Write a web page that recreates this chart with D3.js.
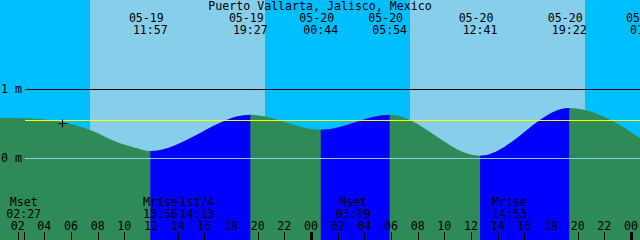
<!DOCTYPE html>
<html><head><meta charset="utf-8">
<script src="https://cdn.jsdelivr.net/npm/d3@7"></script>
<style>html,body{margin:0;padding:0;background:#fff;} svg{display:block;}</style>
</head><body><svg id="c" width="640" height="240"></svg>
<script>
const title = "Puerto Vallarta, Jalisco, Mexico";
// all times in hours since 05-19 00:00
const viewStart = 0.675, viewEnd = 48.675;
const tideHours  = [0.675, 2.55, 4.05, 5.44, 6.675, 7.425, 9.675, 10.8, 11.95, 19.45, 24.733, 29.9, 36.683, 43.367, 49.233];
const tideLevels = [0.591, 0.584, 0.565, 0.525, 0.461, 0.413, 0.220, 0.157, 0.109, 0.635, 0.417, 0.635, 0.040, 0.732, 0.226];
const hiloDates = ["05-19","05-19","05-20","05-20","05-20","05-20","05-21"];
const hiloTimes = ["11:57","19:27","00:44","05:54","12:41","19:22","01:14"];
const hiloHours = [11.95, 19.45, 24.733, 29.9, 36.683, 43.367, 49.233];
const hiloType  = ["L","H","L","H","L","H","L"];
const sunriseHours = [7.425, 31.425];
const sunsetHours  = [20.55, 44.55];
const moonLabels = ["Mset","Mrise","1st/4","Mset","Mrise"];
const moonTimes  = ["02:27","13:56","14:13","03:09","14:53"];
const moonHours  = [2.45, 13.933, 14.217, 27.15, 38.883];
const hourTicks = [2,4,6,8,10,12,14,16,18,20,22,24,26,28,30,32,34,36,38,40,42,44,46,48];
const hourTickLabels = ["02","04","06","08","10","12","14","16","18","20","22","00","02","04","06","08","10","12","14","16","18","20","22","00"];
const midnightHours = [24, 48];
const levelTicks = [0, 1];
const levelTickLabels = ["0 m", "1 m"];
const meanLevel = 0.551;
const nowHour = 5.3625, nowLevel = 0.507;

const W = 640, H = 240;
const FONT = "'DejaVu Sans Mono', monospace";
const FS = "11.6px";
const C = {night:"#00bfff", day:"#87ceeb", ebb:"#2e8b57", flood:"#0000ff", msl:"#ffff00", zero:"#87ceeb", grid:"#000"};

const svg = d3.select("#c");
const xs = d3.scaleLinear().domain([viewStart, viewEnd]).range([0, W]);
const ys = d3.scaleLinear().domain([0, 1]).range([158.5, 89.5]);

// background
svg.append("rect").attr("x",0).attr("y",0).attr("width",W).attr("height",H).attr("fill",C.night);
sunriseHours.forEach((sr,i)=>{
  svg.append("rect").attr("x",xs(sr)).attr("y",0).attr("width",xs(sunsetHours[i])-xs(sr)).attr("height",H).attr("fill",C.day);
});

// tide area
const pts = tideHours.map((h,i)=>({h, l:tideLevels[i]}));
const area = d3.area().x(d=>xs(d.h)).y0(H).y1(d=>ys(d.l)).curve(d3.curveMonotoneX);
svg.append("path").attr("d", area(pts)).attr("fill", C.ebb);

const defs = svg.append("defs");
hiloHours.forEach((h,i)=>{
  if (hiloType[i]==="L" && i+1 < hiloHours.length) {
    const id = "fl"+i;
    defs.append("clipPath").attr("id",id).append("rect")
      .attr("x", xs(h)).attr("y",0).attr("width", xs(hiloHours[i+1])-xs(h)).attr("height",H);
    svg.append("path").attr("d", area(pts)).attr("fill", C.flood).attr("clip-path","url(#"+id+")");
  }
});

// level lines
const lineX0 = 25;
levelTicks.forEach((lv,i)=>{
  const y = ys(lv);
  svg.append("line").attr("x1",lineX0).attr("x2",W).attr("y1",y).attr("y2",y)
    .attr("stroke", lv===0 ? C.zero : C.grid).attr("stroke-width",1);
  svg.append("text").attr("x",1).attr("y",y+3.5).attr("font-family",FONT).attr("font-size",FS)
    .attr("fill","#000").text(levelTickLabels[i]);
});
svg.append("line").attr("x1",lineX0).attr("x2",W).attr("y1",ys(meanLevel)).attr("y2",ys(meanLevel))
  .attr("stroke",C.msl).attr("stroke-width",1);

// now marker
const nx = xs(nowHour), ny = ys(nowLevel);
svg.append("path").attr("d",`M${nx-4},${ny}H${nx+5}M${nx},${ny-4}V${ny+4}`)
  .attr("stroke","#000").attr("stroke-width",1).attr("fill","none");

// title
svg.append("text").attr("x",320).attr("y",9.5).attr("text-anchor","middle")
  .attr("font-family",FONT).attr("font-size",FS).attr("fill","#000").text(title);

// high/low labels
hiloHours.forEach((h,i)=>{
  const x = xs(h);
  svg.append("text").attr("x",x-4).attr("y",21.5).attr("text-anchor","middle")
    .attr("font-family",FONT).attr("font-size",FS).attr("fill","#000").text(hiloDates[i]);
  svg.append("text").attr("x",x).attr("y",34).attr("text-anchor","middle")
    .attr("font-family",FONT).attr("font-size",FS).attr("fill","#000").text(hiloTimes[i]);
});

// moon events: spread overlapping labels
const minSep = 36.5;
const mev = moonHours.map((h,i)=>({h, x:xs(h), cx:xs(h), lab:moonLabels[i], t:moonTimes[i]}));
for (let i=0;i<mev.length-1;i++){
  const a=mev[i], b=mev[i+1];
  if (b.cx - a.cx < minSep){
    const mid=(a.cx+b.cx)/2; a.cx=mid-minSep/2; b.cx=mid+minSep/2;
  }
}
mev.forEach(e=>{
  svg.append("text").attr("x",e.cx).attr("y",206).attr("text-anchor","middle")
    .attr("font-family",FONT).attr("font-size",FS).attr("fill","#000").text(e.lab);
  svg.append("text").attr("x",e.cx).attr("y",218).attr("text-anchor","middle")
    .attr("font-family",FONT).attr("font-size",FS).attr("fill","#000").text(e.t);
  const tx = Math.round(e.x)+0.5;
  svg.append("line").attr("x1",tx).attr("x2",tx).attr("y1",232).attr("y2",H).attr("stroke","#000").attr("stroke-width",1);
});

// hour axis
hourTicks.forEach((h,i)=>{
  const x = xs(h);
  const tx = Math.round(x)+0.5;
  const thick = midnightHours.includes(h);
  svg.append("line").attr("x1",tx).attr("x2",tx).attr("y1",232).attr("y2",H)
    .attr("stroke","#000").attr("stroke-width", thick?3:1);
  svg.append("text").attr("x",x).attr("y",229.5).attr("text-anchor","middle")
    .attr("font-family",FONT).attr("font-size",FS).attr("fill","#000").text(hourTickLabels[i]);
});
</script>
</body></html>
